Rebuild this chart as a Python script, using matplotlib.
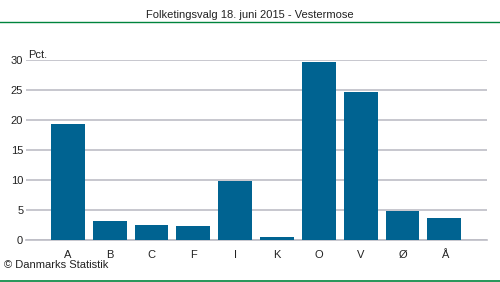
import matplotlib
matplotlib.use("Agg")
import matplotlib.pyplot as plt
from matplotlib.lines import Line2D

# data
parties = ["A", "B", "C", "F", "I", "K", "O", "V", "Ø", "Å"]
pct = [19.3, 3.2, 2.5, 2.3, 9.8, 0.5, 29.6, 24.6, 4.8, 3.65]
yticks = [0, 5, 10, 15, 20, 25, 30]

plt.rcParams["font.family"] = ["Liberation Sans", "DejaVu Sans"]
plt.rcParams["font.size"] = 8

fig = plt.figure(figsize=(5.0, 2.82), dpi=100)
W, H = 500, 282
ax = fig.add_axes([26 / W, 1 - 240 / H, (487 - 26) / W, (240 - 59.5) / H])

x = list(range(len(parties)))
ax.bar(x, pct, width=0.81, color="#006391", zorder=3)
ax.set_xlim(-1.0, 10.02)
ax.set_ylim(0, 30)
ax.set_yticks(yticks)
ax.set_xticks(x)
ax.set_xticklabels(parties)
ax.yaxis.grid(True, color="#BEBEC6", linewidth=1.2, zorder=0)
ax.tick_params(length=0, labelsize=8, colors="#222222")
ax.tick_params(axis="x", pad=7)
ax.tick_params(axis="y", pad=2)
for s in ["top", "right", "left"]:
    ax.spines[s].set_visible(False)
ax.spines["bottom"].set_color("#BEBEC6")
ax.spines["bottom"].set_linewidth(1.2)

ax.text(2 / (487 - 26), 1.0, "Pct.", transform=ax.transAxes, fontsize=8,
        ha="left", va="bottom", color="#222222")

fig.text(0.5, 1 - 15 / H, "Folketingsvalg 18. juni 2015 - Vestermose",
         ha="center", va="center", fontsize=8, color="#222222")
fig.add_artist(Line2D([0, 1], [1 - 22 / H, 1 - 22 / H], color="#00843D",
                      linewidth=1.0, transform=fig.transFigure))
fig.add_artist(Line2D([0, 1], [1 - 280.5 / H, 1 - 280.5 / H], color="#00843D",
                      linewidth=1.2, transform=fig.transFigure))
fig.text(4 / W, 1 - 265 / H, "© Danmarks Statistik", ha="left", va="center",
         fontsize=8, color="#222222")

fig.savefig("out.png", dpi=100)
